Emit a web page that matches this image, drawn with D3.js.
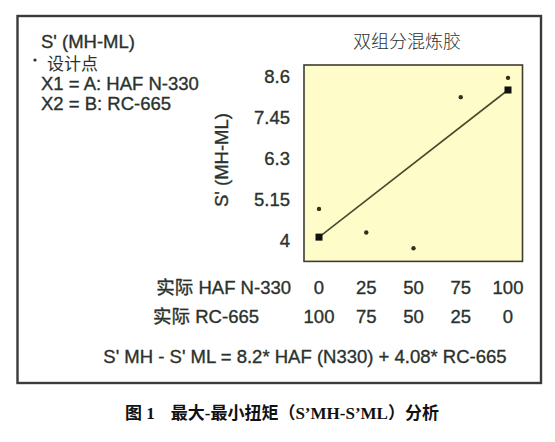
<!DOCTYPE html>
<html>
<head>
<meta charset="utf-8">
<script src="https://cdn.jsdelivr.net/npm/d3@7"></script>
<style>
  html, body { margin: 0; padding: 0; background: #fff; }
  svg { display: block; }
  text { font-family: "Liberation Sans", Arial, "Noto Sans CJK SC", sans-serif; fill: #2b322d; }
  .lbl { stroke: #2b322d; stroke-width: 0.35; }
</style>
</head>
<body>
<svg id="chart" width="555" height="442"></svg>
<script>
// HAF N-330 share (%) of each blend and the matching RC-665 share
const hafLevels = [0, 25, 50, 75, 100];
const rcLevels = [100, 75, 50, 25, 0];
// measured S'MH - S'ML at each design point
const measured = [4.87, 4.21, 3.77, 8.0, 8.54];
// fitted model: S'MH - S'ML = 8.2*HAF + 4.08*RC-665
const coefHAF = 8.2;
const coefRC = 4.08;
const yTicks = [4, 5.15, 6.3, 7.45, 8.6];

const FS = 18.5;
const svg = d3.select("#chart");

// outer frame
svg.append("rect")
  .attr("x", 17.5).attr("y", 16)
  .attr("width", 523.5).attr("height", 367)
  .attr("fill", "#fff").attr("stroke", "#3a3a3a").attr("stroke-width", 2.4);

const plot = { left: 304, top: 65, right: 522.5, bottom: 261.4 };

const x = d3.scaleLinear().domain([0, 100]).range([319, 508]);
const y = d3.scaleLinear().domain([3.4, 8.9]).range([plot.bottom, plot.top]);

// plot panel
svg.append("rect")
  .attr("x", plot.left).attr("y", plot.top)
  .attr("width", plot.right - plot.left).attr("height", plot.bottom - plot.top)
  .attr("fill", "#fefdc9").attr("stroke", "#3d3d35").attr("stroke-width", 1.6);

// y axis labels
const yAxis = d3.axisLeft(y).tickValues(yTicks).tickSize(0).tickPadding(0)
  .tickFormat(d => String(d));
const gy = svg.append("g").attr("transform", "translate(290,0)").call(yAxis);
gy.select(".domain").remove();
gy.selectAll("text")
  .attr("class", "lbl")
  .attr("font-size", FS).attr("fill", "#2b322d")
  .style("font-family", "'Liberation Sans', Arial, sans-serif")
  .attr("dy", "0.36em");

svg.append("text").attr("class", "lbl")
  .attr("transform", "translate(228,160) rotate(-90)")
  .attr("text-anchor", "middle")
  .attr("font-size", FS)
  .text("S' (MH-ML)");

// fitted line from the model coefficients
const fit = hafLevels.map(h => ({ h, v: coefRC + (coefHAF - coefRC) * h / 100 }));
const ends = [fit[0], fit[fit.length - 1]];
svg.append("path")
  .datum(ends)
  .attr("d", d3.line().x(d => x(d.h)).y(d => y(d.v)))
  .attr("stroke", "#4a4a2c").attr("stroke-width", 1.6).attr("fill", "none");

svg.selectAll("rect.end").data(ends).enter().append("rect")
  .attr("class", "end")
  .attr("x", d => x(d.h) - 3.5).attr("y", d => y(d.v) - 3.5)
  .attr("width", 7).attr("height", 7).attr("fill", "#111");

// design points
svg.selectAll("circle.pt").data(measured).enter().append("circle")
  .attr("class", "pt")
  .attr("cx", (d, i) => x(hafLevels[i]))
  .attr("cy", d => y(d))
  .attr("r", 2.2).attr("fill", "#3a2e18");

// component rows beneath the panel
const rows = [
  { label: "实际 HAF N-330", vals: hafLevels, yy: 294, right: 291 },
  { label: "实际 RC-665", vals: rcLevels, yy: 323, right: 259 }
];
rows.forEach(r => {
  svg.append("text").attr("class", "lbl").attr("x", r.right).attr("y", r.yy)
    .attr("text-anchor", "end").attr("font-size", FS).text(r.label);
  svg.selectAll(null).data(r.vals).enter().append("text")
    .attr("class", "lbl")
    .attr("x", (d, i) => x(hafLevels[i])).attr("y", r.yy)
    .attr("text-anchor", "middle").attr("font-size", FS)
    .text(d => d);
});

// equation
svg.append("text").attr("class", "lbl").attr("x", 305).attr("y", 363)
  .attr("text-anchor", "middle").attr("font-size", FS)
  .text(`S' MH - S' ML = ${coefHAF}* HAF (N330) + ${coefRC}* RC-665`);

// legend block
svg.append("text").attr("class", "lbl").attr("x", 41).attr("y", 48).attr("font-size", FS).text("S' (MH-ML)");
svg.append("circle").attr("cx", 35).attr("cy", 60).attr("r", 1.6).attr("fill", "#2b322d");
svg.append("text").attr("x", 47).attr("y", 69.5).attr("font-size", 17).text("设计点");
svg.append("text").attr("class", "lbl").attr("x", 41).attr("y", 90).attr("font-size", FS).text("X1 = A: HAF N-330");
svg.append("text").attr("class", "lbl").attr("x", 41).attr("y", 110).attr("font-size", FS).text("X2 = B: RC-665");

// panel title
svg.append("text").attr("x", 407).attr("y", 48)
  .attr("text-anchor", "middle").attr("font-size", 18)
  .style("font-family", "'Noto Sans CJK SC', sans-serif").style("font-weight", 300)
  .text("双组分混炼胶");

// figure caption
const cap = svg.append("text").attr("x", 125).attr("y", 419)
  .attr("font-size", 17).style("font-weight", "bold").style("fill", "#111")
  .style("font-family", "'Liberation Serif', 'Noto Sans CJK SC', serif");
cap.append("tspan").text("图 1");
cap.append("tspan").attr("dx", 16).text("最大-最小扭矩（S’MH-S’ML）分析");
</script>
</body>
</html>
